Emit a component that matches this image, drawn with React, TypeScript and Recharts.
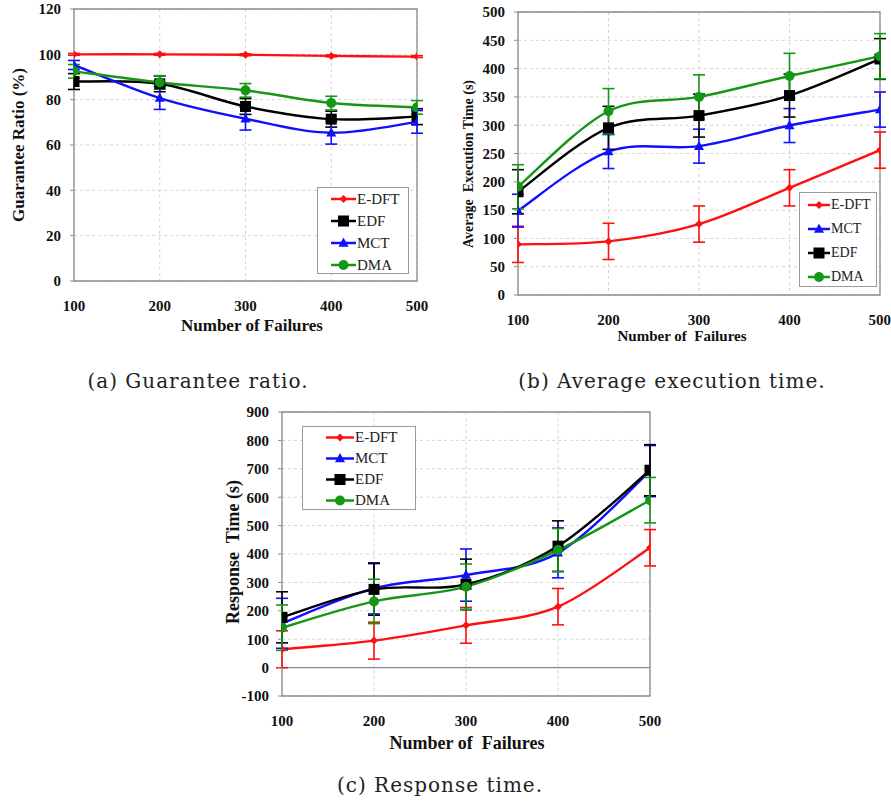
import { LineChart, Line, XAxis, YAxis, CartesianGrid, ErrorBar, Legend, ReferenceArea, ReferenceLine } from 'recharts'

const failures = [100, 200, 300, 400, 500]

// (a) guarantee ratio (%)
const ratioEDFT = [100, 100, 99.8, 99.3, 99]
const ratioEDF = [88, 87, 77, 71.4, 72.5]
const ratioMCT = [95.3, 80.7, 71.6, 65.4, 70.2]
const ratioDMA = [92.5, 87.6, 84.1, 78.5, 76.6]
const ratioErrEDFT = [0.4, 0.4, 0.4, 0.4, 0.4]
const ratioErrEDF = [3.5, 3.5, 3.5, 3.5, 3.5]
const ratioErrMCT = [2, 5, 5, 5, 5]
const ratioErrDMA = [3, 3, 3, 3, 3]
const ratioTicks = [0, 20, 40, 60, 80, 100, 120]

// (b) average execution time (s)
const execEDFT = [89.5, 94.7, 125.3, 189.4, 256]
const execMCT = [149, 253.5, 263, 299.4, 327.6]
const execEDF = [182.4, 295.3, 317, 352.4, 417]
const execDMA = [191.2, 324.7, 350, 387, 421.8]
const execErrEDFT = [32, 32, 32, 32, 32]
const execErrMCT = [29, 30, 30, 30, 31]
const execErrEDF = [39, 38, 38, 38, 36]
const execErrDMA = [39, 40, 39, 40, 40]
const execTicks = [0, 50, 100, 150, 200, 250, 300, 350, 400, 450, 500]

// (c) response time (s)
const respEDFT = [64.5, 95, 148.8, 214.5, 422]
const respMCT = [156, 279, 325.8, 404, 692]
const respEDF = [177, 275.4, 293, 427.7, 695]
const respDMA = [140.6, 233, 284.8, 413.7, 589.5]
const respErrEDFT = [65, 65, 63, 64, 64]
const respErrMCT = [88, 90, 92, 88, 90]
const respErrEDF = [90, 91, 89, 89, 90]
const respErrDMA = [80, 78, 80, 76, 80]
const respTicks = [-100, 0, 100, 200, 300, 400, 500, 600, 700, 800, 900]

type Key = 'edft' | 'edf' | 'mct' | 'dma'

const seriesStyle: Record<Key, { name: string; color: string; shape: string }> = {
  edft: { name: 'E-DFT', color: '#ff1010', shape: 'diamond' },
  edf: { name: 'EDF', color: '#000000', shape: 'square' },
  mct: { name: 'MCT', color: '#1010ff', shape: 'triangle' },
  dma: { name: 'DMA', color: '#169616', shape: 'circle' },
}

const serif = "'Liberation Serif', 'Times New Roman', Times, serif"

function buildRows(edft: number[], edf: number[], mct: number[], dma: number[], eEdft: number[], eEdf: number[], eMct: number[], eDma: number[]) {
  return failures.map((x, i) => ({
    x,
    edft: edft[i], edftErr: eEdft[i],
    edf: edf[i], edfErr: eEdf[i],
    mct: mct[i], mctErr: eMct[i],
    dma: dma[i], dmaErr: eDma[i],
  }))
}

const ratioRows = buildRows(ratioEDFT, ratioEDF, ratioMCT, ratioDMA, ratioErrEDFT, ratioErrEDF, ratioErrMCT, ratioErrDMA)
const execRows = buildRows(execEDFT, execEDF, execMCT, execDMA, execErrEDFT, execErrEDF, execErrMCT, execErrDMA)
const respRows = buildRows(respEDFT, respEDF, respMCT, respDMA, respErrEDFT, respErrEDF, respErrMCT, respErrDMA)

// excel-like smoothed line (catmull-rom as cubic bezier)
function smoothCurve(context: any) {
  let pts: [number, number][] = []
  return {
    areaStart() {},
    areaEnd() {},
    lineStart() { pts = [] },
    lineEnd() {
      if (!pts.length) return
      context.moveTo(pts[0][0], pts[0][1])
      for (let i = 0; i < pts.length - 1; i++) {
        const p0 = pts[Math.max(i - 1, 0)]
        const p1 = pts[i]
        const p2 = pts[i + 1]
        const p3 = pts[Math.min(i + 2, pts.length - 1)]
        context.bezierCurveTo(
          p1[0] + (p2[0] - p0[0]) / 6, p1[1] + (p2[1] - p0[1]) / 6,
          p2[0] - (p3[0] - p1[0]) / 6, p2[1] - (p3[1] - p1[1]) / 6,
          p2[0], p2[1],
        )
      }
    },
    point(x: number, y: number) { pts.push([x, y]) },
  }
}

function Marker({ shape, cx, cy, color, size }: { shape: string; cx: number; cy: number; color: string; size: number }) {
  const s = size
  if (shape === 'diamond') return <path d={`M${cx},${cy - s}L${cx + s},${cy}L${cx},${cy + s}L${cx - s},${cy}Z`} fill={color} />
  if (shape === 'square') return <rect x={cx - s} y={cy - s} width={2 * s} height={2 * s} fill={color} />
  if (shape === 'triangle') return <path d={`M${cx},${cy - s * 1.1}L${cx + s},${cy + s * 0.75}L${cx - s},${cy + s * 0.75}Z`} fill={color} />
  return <circle cx={cx} cy={cy} r={s} fill={color} />
}

const markerSize: Record<string, number> = { diamond: 4, square: 5.5, triangle: 5, circle: 5 }

function LegendBox({ order, width, height, rowH, padTop, lineX, lineW, textX, fontSize }: any) {
  return (
    <div style={{ width, height, border: '1px solid #9a9a9a', background: '#fff', boxSizing: 'border-box', paddingTop: padTop, fontFamily: serif, fontSize, color: '#222' }}>
      {order.map((k: Key) => {
        const st = seriesStyle[k]
        return (
          <div key={k} style={{ position: 'relative', height: rowH }}>
            <svg width={lineW} height={rowH} style={{ position: 'absolute', left: lineX, top: 0 }}>
              <line x1={0} x2={lineW} y1={rowH / 2} y2={rowH / 2} stroke={st.color} strokeWidth={2.5} />
              <Marker shape={st.shape} cx={lineW / 2} cy={rowH / 2} color={st.color} size={markerSize[st.shape]} />
            </svg>
            <span style={{ position: 'absolute', left: textX, top: 0, lineHeight: `${rowH}px` }}>{st.name}</span>
          </div>
        )
      })}
    </div>
  )
}

interface PanelProps {
  left: number
  top: number
  width: number
  height: number
  plotTop: number
  marginRight: number
  yAxisWidth: number
  xAxisHeight: number
  yDomain: [number, number]
  yTicks: number[]
  rows: any[]
  order: Key[]
  zeroLine?: boolean
  yTitle: string
  yTitleX: number
  yTitleY: number
  yTitleSize: number
  xTitle: string
  xTitleX: number
  xTitleY: number
  xTitleSize: number
  legend: any
}

const tickFont = { fontFamily: serif, fontWeight: 'bold', fontSize: 15, fill: '#111' }

function Panel(p: PanelProps) {
  return (
    <div style={{ position: 'absolute', left: p.left, top: p.top }}>
      <LineChart width={p.width} height={p.height} data={p.rows} margin={{ top: p.plotTop, right: p.marginRight, bottom: 0, left: 0 }}>
        <CartesianGrid stroke="#d4d4d4" strokeDasharray="3 3" />
        <ReferenceArea x1={100} x2={500} y1={p.yDomain[0]} y2={p.yDomain[1]} fill="none" stroke="#8c8c8c" strokeWidth={1.3} />
        {p.zeroLine && <ReferenceLine y={0} stroke="#8c8c8c" strokeWidth={1.3} />}
        <XAxis
          type="number"
          dataKey="x"
          domain={[100, 500]}
          ticks={failures}
          allowDataOverflow
          height={p.xAxisHeight}
          tickLine={false}
          axisLine={false}
          tickMargin={13}
          tick={tickFont}
          label={() => (
            <text x={p.xTitleX} y={p.xTitleY} textAnchor="middle" dominantBaseline="central" fontFamily={serif} fontWeight="bold" fontSize={p.xTitleSize} fill="#111" style={{ whiteSpace: 'pre' }}>
              {p.xTitle}
            </text>
          )}
        />
        <YAxis
          type="number"
          domain={p.yDomain}
          ticks={p.yTicks}
          interval={0}
          allowDataOverflow
          width={p.yAxisWidth}
          axisLine={false}
          tickSize={4}
          tickLine={{ stroke: '#8c8c8c' }}
          tickMargin={9}
          tick={tickFont}
          label={() => (
            <text x={p.yTitleX} y={p.yTitleY} transform={`rotate(-90 ${p.yTitleX} ${p.yTitleY})`} textAnchor="middle" dominantBaseline="central" fontFamily={serif} fontWeight="bold" fontSize={p.yTitleSize} fill="#111" style={{ whiteSpace: 'pre' }}>
              {p.yTitle}
            </text>
          )}
        />
        {p.order.map((k) => {
          const st = seriesStyle[k]
          return (
            <Line
              key={k}
              dataKey={k}
              name={st.name}
              type={smoothCurve as any}
              stroke={st.color}
              strokeWidth={2.4}
              dot={(d: any) => <Marker key={`${k}-${d.index}`} shape={st.shape} cx={d.cx} cy={d.cy} color={st.color} size={markerSize[st.shape]} />}
              activeDot={false}
              isAnimationActive={false}
            >
              <ErrorBar dataKey={`${k}Err`} width={6} strokeWidth={1.6} stroke={st.color} direction="y" />
            </Line>
          )
        })}
        <Legend
          layout="vertical"
          align="center"
          verticalAlign="middle"
          wrapperStyle={{ left: p.legend.x, top: p.legend.y, width: p.legend.width, height: p.legend.height }}
          content={() => <LegendBox order={p.order} {...p.legend} />}
        />
      </LineChart>
    </div>
  )
}

const captionStyle = {
  position: 'absolute' as const,
  width: 440,
  textAlign: 'center' as const,
  fontFamily: "'DejaVu Serif', serif",
  fontSize: 20,
  letterSpacing: 1,
  lineHeight: '24px',
  color: '#222',
}

export default function App() {
  return (
    <div style={{ position: 'absolute', left: 0, top: 0, width: 891, height: 801, background: '#fff', overflow: 'hidden' }}>
      <Panel
        left={0}
        top={0}
        width={445}
        height={340}
        plotTop={9}
        marginRight={28}
        yAxisWidth={74}
        xAxisHeight={59}
        yDomain={[0, 120]}
        yTicks={ratioTicks}
        rows={ratioRows}
        order={['edft', 'edf', 'mct', 'dma']}
        yTitle="Guarantee Ratio (%)"
        yTitleX={18}
        yTitleY={145}
        yTitleSize={17}
        xTitle="Number of Failures"
        xTitleX={252}
        xTitleY={325}
        xTitleSize={17}
        legend={{ x: 317, y: 187, width: 92, height: 87, rowH: 22, padTop: 0, lineX: 13, lineW: 25, textX: 39, fontSize: 15 }}
      />
      <Panel
        left={445}
        top={0}
        width={446}
        height={345}
        plotTop={12}
        marginRight={11}
        yAxisWidth={73}
        xAxisHeight={50}
        yDomain={[0, 500]}
        yTicks={execTicks}
        rows={execRows}
        order={['edft', 'mct', 'edf', 'dma']}
        yTitle="Average  Execution Time (s)"
        yTitleX={23}
        yTitleY={164}
        yTitleSize={14}
        xTitle="Number of  Failures"
        xTitleX={237}
        xTitleY={336}
        xTitleSize={15}
        legend={{ x: 354, y: 192, width: 78, height: 95, rowH: 24, padTop: 0, lineX: 8, lineW: 22, textX: 31, fontSize: 14 }}
      />
      <Panel
        left={200}
        top={400}
        width={480}
        height={360}
        plotTop={12}
        marginRight={30}
        yAxisWidth={82}
        xAxisHeight={64}
        yDomain={[-100, 900]}
        yTicks={respTicks}
        rows={respRows}
        order={['edft', 'mct', 'edf', 'dma']}
        zeroLine
        yTitle="Response  Time (s)"
        yTitleX={33}
        yTitleY={152}
        yTitleSize={18}
        xTitle="Number of  Failures"
        xTitleX={267}
        xTitleY={343}
        xTitleSize={18}
        legend={{ x: 102, y: 26, width: 114, height: 84, rowH: 21, padTop: 0, lineX: 23, lineW: 28, textX: 52, fontSize: 15 }}
      />
      <div style={{ ...captionStyle, left: -22, top: 369 }}>(a) Guarantee ratio.</div>
      <div style={{ ...captionStyle, left: 452, top: 369 }}>(b) Average execution time.</div>
      <div style={{ ...captionStyle, left: 220, top: 773 }}>(c) Response time.</div>
    </div>
  )
}
